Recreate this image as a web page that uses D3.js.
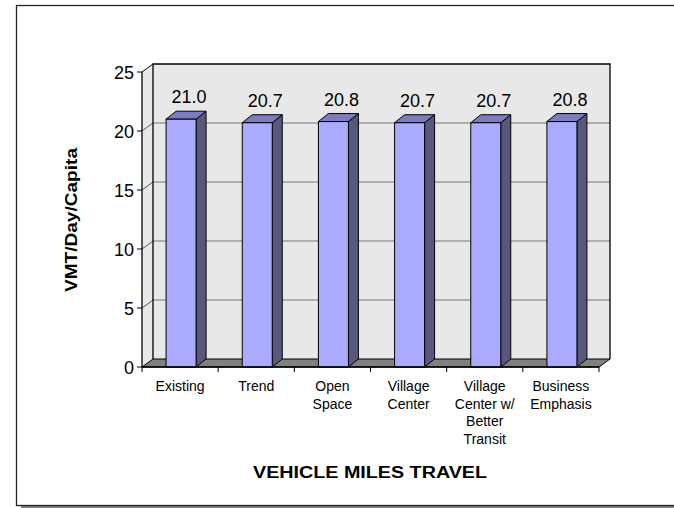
<!DOCTYPE html>
<html>
<head>
<meta charset="utf-8">
<script src="https://cdn.jsdelivr.net/npm/d3@7/dist/d3.min.js"></script>
<style>
  html, body { margin: 0; padding: 0; background: #fff; }
  svg { display: block; font-family: Arial, "Liberation Sans", sans-serif; }
</style>
</head>
<body>
<svg id="chart" width="674" height="508"></svg>
<script>
// Scenario names (line breaks mark wrapped label lines)
const categories = [
  "Existing",
  "Trend",
  "Open\nSpace",
  "Village\nCenter",
  "Village\nCenter w/\nBetter\nTransit",
  "Business\nEmphasis"
];
// Daily vehicle miles travelled per person
const vmtPerCapita = [21.0, 20.7, 20.8, 20.7, 20.7, 20.8];
const yTicks = [0, 5, 10, 15, 20, 25];
const xTitle = "VEHICLE MILES TRAVEL";
const yTitle = "VMT/Day/Capita";

const svg = d3.select("#chart");

// outer frame with a thin drop shadow
svg.append("line").attr("x1", 21).attr("x2", 674).attr("y1", 507).attr("y2", 507)
  .attr("stroke", "#555").attr("stroke-width", 1.5);
svg.append("rect").attr("x", 16.5).attr("y", 5.5).attr("width", 700).attr("height", 500)
  .attr("fill", "#fff").attr("stroke", "#222").attr("stroke-width", 1.3);

// 3-D plot box geometry
const left = 142, right = 599;
const depthX = 11, depthY = 8;      // wall / floor depth
const barDX = 10, barDY = 8;        // bar depth

const y = d3.scaleLinear().domain([0, 25]).range([367, 72]);
const x = d3.scaleBand().domain(categories).range([left, right]).padding(0);
const barW = 30;

const y0 = y(0), yTop = y(25);

// back wall
svg.append("rect")
  .attr("x", left + depthX).attr("y", yTop - depthY)
  .attr("width", right - left).attr("height", y0 - yTop)
  .attr("fill", "#e8e8e8");
// side wall
svg.append("polygon")
  .attr("points", [[left, yTop], [left + depthX, yTop - depthY], [left + depthX, y0 - depthY], [left, y0]].join(" "))
  .attr("fill", "#e8e8e8");

// gridlines: diagonal across the side wall, then along the back wall
yTicks.forEach(t => {
  const yy = y(t);
  if (t > 0 && t < 25) {
    svg.append("line").attr("x1", left).attr("y1", yy).attr("x2", left + depthX).attr("y2", yy - depthY)
      .attr("stroke", "#555").attr("stroke-width", 1);
    svg.append("line").attr("x1", left + depthX).attr("y1", yy - depthY).attr("x2", right + depthX).attr("y2", yy - depthY)
      .attr("stroke", "#777").attr("stroke-width", 1.2);
  }
});

// back wall outline (left, top, right)
svg.append("path")
  .attr("d", `M${left + depthX},${y0 - depthY}V${yTop - depthY}H${right + depthX}V${y0 - depthY}`)
  .attr("fill", "none").attr("stroke", "#000").attr("stroke-width", 1.3);
// top edge of side wall
svg.append("line").attr("x1", left).attr("y1", yTop).attr("x2", left + depthX).attr("y2", yTop - depthY)
  .attr("stroke", "#000").attr("stroke-width", 1);

// floor
svg.append("polygon")
  .attr("points", [[left, y0], [right, y0], [right + depthX, y0 - depthY], [left + depthX, y0 - depthY]].join(" "))
  .attr("fill", "#808080").attr("stroke", "#000").attr("stroke-width", 1);

// bars
const bars = svg.append("g").selectAll("g").data(categories).join("g");
bars.each(function (c, i) {
  const g = d3.select(this);
  const v = vmtPerCapita[i];
  const x0 = x(c) + (x.bandwidth() - barW) / 2 + 1;
  const x1 = x0 + barW;
  const yv = y(v);
  g.append("polygon")
    .attr("points", [[x1, yv], [x1 + barDX, yv - barDY], [x1 + barDX, y0 - barDY], [x1, y0]].join(" "))
    .attr("fill", "#58587f").attr("stroke", "#000").attr("stroke-width", 1);
  g.append("polygon")
    .attr("points", [[x0, yv], [x0 + barDX, yv - barDY], [x1 + barDX, yv - barDY], [x1, yv]].join(" "))
    .attr("fill", "#7c7cbe").attr("stroke", "#000").attr("stroke-width", 1);
  g.append("rect")
    .attr("x", x0).attr("y", yv).attr("width", barW).attr("height", y0 - yv)
    .attr("fill", "#aaaaff").attr("stroke", "#000").attr("stroke-width", 1);
  g.append("text")
    .attr("x", x0 + barW / 2 + 8).attr("y", yv - 16)
    .attr("text-anchor", "middle").attr("font-size", 18).attr("fill", "#000")
    .text(d3.format(".1f")(v));
});

// y axis
svg.append("line").attr("x1", left).attr("x2", left).attr("y1", yTop).attr("y2", y0)
  .attr("stroke", "#000").attr("stroke-width", 1.3);
const yAxis = svg.append("g");
yTicks.forEach(t => {
  yAxis.append("line").attr("x1", left - 5).attr("x2", left).attr("y1", y(t)).attr("y2", y(t))
    .attr("stroke", "#000").attr("stroke-width", 1);
  yAxis.append("text").attr("x", left - 8).attr("y", y(t) + 6.5)
    .attr("text-anchor", "end").attr("font-size", 18).text(t);
});

// x axis
svg.append("line").attr("x1", left).attr("x2", right).attr("y1", y0).attr("y2", y0)
  .attr("stroke", "#000").attr("stroke-width", 1.3);
const bounds = categories.map(c => x(c)).concat([right]);
bounds.forEach(bx => {
  svg.append("line").attr("x1", bx).attr("x2", bx).attr("y1", y0).attr("y2", y0 + 5)
    .attr("stroke", "#000").attr("stroke-width", 1);
});
categories.forEach(c => {
  const t = svg.append("text").attr("text-anchor", "middle").attr("font-size", 14)
    .attr("x", x(c) + x.bandwidth() / 2).attr("y", y0 + 24);
  c.split("\n").forEach((line, j) => {
    t.append("tspan").attr("x", x(c) + x.bandwidth() / 2).attr("dy", j === 0 ? 0 : 17.7).text(line);
  });
});

// titles
svg.append("text").attr("x", 370).attr("y", 478).attr("text-anchor", "middle")
  .attr("font-size", 16).attr("font-weight", "bold")
  .attr("textLength", 234).attr("lengthAdjust", "spacingAndGlyphs").text(xTitle);
svg.append("text").attr("transform", "translate(77,220) rotate(-90)").attr("text-anchor", "middle")
  .attr("font-size", 16).attr("font-weight", "bold")
  .attr("textLength", 144).attr("lengthAdjust", "spacingAndGlyphs").text(yTitle);
</script>
</body>
</html>
